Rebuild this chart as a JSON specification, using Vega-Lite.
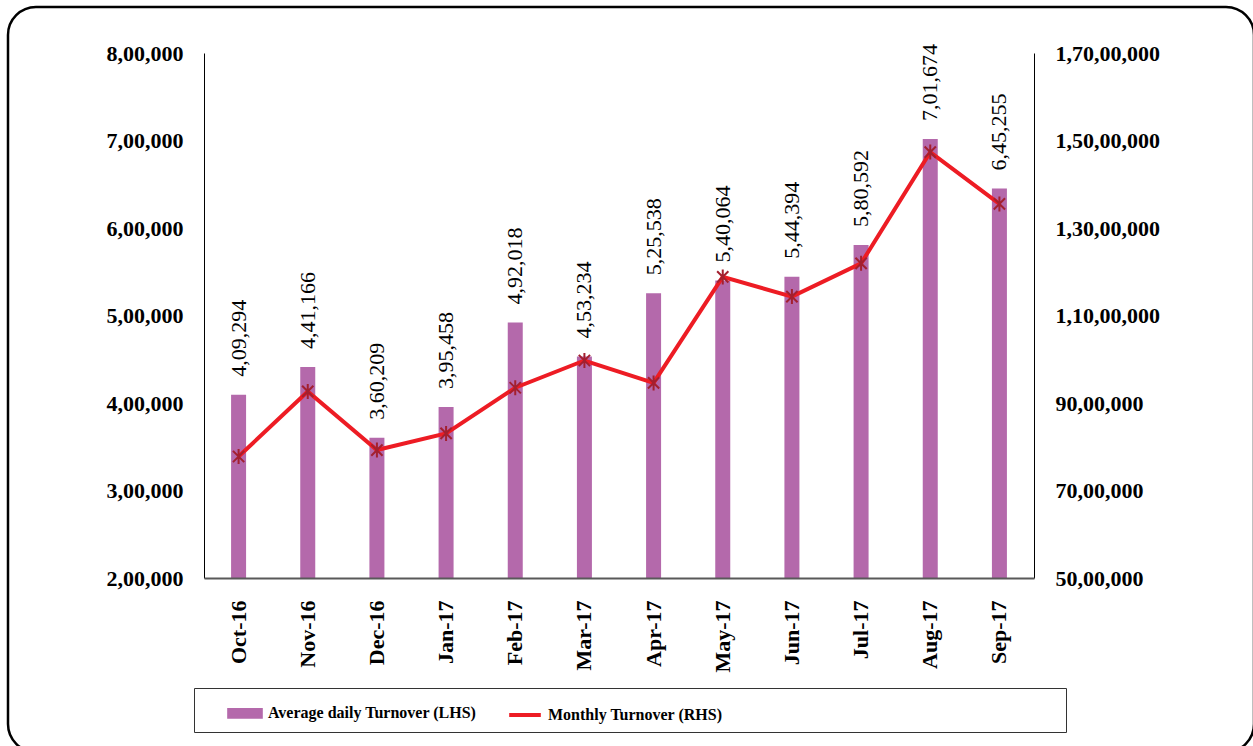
{
  "$schema": "https://vega.github.io/schema/vega-lite/v6.json",
  "width": 1246,
  "height": 745,
  "autosize": {"type": "none"},
  "padding": {"left": 8, "top": 7, "right": -1, "bottom": -6},
  "background": "white",
  "view": {"stroke": "#000000", "strokeWidth": 2.5, "cornerRadius": 28, "fill": "white"},
  "data": {
    "values": [
      {"month": "Oct-16", "avg": 409294, "monthly": 7776586},
      {"month": "Nov-16", "avg": 441166, "monthly": 9264486},
      {"month": "Dec-16", "avg": 360209, "monthly": 7924598},
      {"month": "Jan-17", "avg": 395458, "monthly": 8304618},
      {"month": "Feb-17", "avg": 492018, "monthly": 9348342},
      {"month": "Mar-17", "avg": 453234, "monthly": 9971148},
      {"month": "Apr-17", "avg": 525538, "monthly": 9459684},
      {"month": "May-17", "avg": 540064, "monthly": 11881408},
      {"month": "Jun-17", "avg": 544394, "monthly": 11432274},
      {"month": "Jul-17", "avg": 580592, "monthly": 12192432},
      {"month": "Aug-17", "avg": 701674, "monthly": 14735154},
      {"month": "Sep-17", "avg": 645255, "monthly": 13550355}
    ]
  },
  "encoding": {
    "x": {
      "field": "month",
      "type": "nominal",
      "sort": null,
      "scale": {"range": [196, 1026], "paddingInner": 0, "paddingOuter": 0},
      "axis": {
        "title": null,
        "orient": "bottom",
        "offset": -174,
        "labelAngle": -90,
        "labelAlign": "right",
        "labelBaseline": "middle",
        "labelPadding": 22,
        "ticks": false,
        "tickSize": 0,
        "domainColor": "#595959",
        "domainWidth": 2,
        "labelFont": "Liberation Serif",
        "labelFontSize": 22,
        "labelFontWeight": "bold",
        "labelColor": "#000000",
        "grid": false,
        "zindex": 1
      }
    }
  },
  "layer": [
    {
      "encoding": {
        "y": {
          "field": "avg",
          "type": "quantitative",
          "scale": {"domain": [200000, 800000], "range": [571, 46], "nice": false, "zero": false},
          "axis": {
            "title": null,
            "orient": "left",
            "offset": -196,
            "values": [200000, 300000, 400000, 500000, 600000, 700000, 800000],
            "labelExpr": "replace(toString(datum.value), regexp('([0-9])(?=([0-9][0-9])+[0-9]$)', 'g'), '$1,')",
            "ticks": false,
            "tickSize": 0,
            "labelPadding": 21,
            "domainColor": "#000000",
            "domainWidth": 1,
            "grid": false,
            "labelFont": "Liberation Serif",
            "labelFontSize": 22,
            "labelFontWeight": "bold",
            "labelColor": "#000000"
          }
        }
      },
      "layer": [
        {
          "mark": {"type": "bar", "size": 15},
          "encoding": {
            "y2": {"datum": 200000},
            "color": {
              "datum": "Average  daily Turnover (LHS)",
              "scale": {
                "domain": ["Average  daily Turnover (LHS)", "Monthly Turnover (RHS)"],
                "range": ["#B469AB", "#ED1C24"]
              },
              "legend": {
                "orient": "none",
                "legendX": 186,
                "legendY": 681,
                "direction": "horizontal",
                "columns": 2,
                "title": " ",
                "titleOrient": "right",
                "titlePadding": 336,
                "titleFontSize": 10,
                "padding": 7,
                "strokeColor": "#333333",
                "labelFont": "Liberation Serif",
                "labelFontSize": 16,
                "labelFontWeight": "bold",
                "labelColor": "#000000",
                "labelLimit": 500,
                "labelOffset": 5,
                "columnPadding": 0,
                "symbolSize": 1000,
                "symbolOffset": 26,
                "encode": {
                  "symbols": {
                    "update": {
                      "shape": {"signal": "datum.value === 'Monthly Turnover (RHS)' ? 'M-1,0H1' : 'M-1,-0.21H1V0.21H-1Z'"},
                      "fill": {"signal": "datum.value === 'Monthly Turnover (RHS)' ? 'transparent' : '#B469AB'"},
                      "stroke": {"signal": "datum.value === 'Monthly Turnover (RHS)' ? '#ED1C24' : 'transparent'"},
                      "strokeWidth": {"value": 4},
                      "opacity": {"value": 1},
                      "fillOpacity": {"value": 1},
                      "strokeOpacity": {"value": 1}
                    }
                  }
                }
              }
            }
          }
        },
        {
          "mark": {
            "type": "text",
            "angle": 270,
            "align": "left",
            "baseline": "middle",
            "dx": 18,
            "font": "Liberation Serif",
            "fontSize": 22,
            "color": "#000000",
            "text": {"expr": "replace(toString(datum.avg), regexp('([0-9])(?=([0-9][0-9])+[0-9]$)', 'g'), '$1,')"}
          }
        }
      ]
    },
    {
      "encoding": {
        "y": {
          "field": "monthly",
          "type": "quantitative",
          "scale": {"domain": [5000000, 17000000], "range": [571, 46], "nice": false, "zero": false},
          "axis": {
            "title": null,
            "orient": "right",
            "offset": -220,
            "values": [5000000, 7000000, 9000000, 11000000, 13000000, 15000000, 17000000],
            "labelExpr": "replace(toString(datum.value), regexp('([0-9])(?=([0-9][0-9])+[0-9]$)', 'g'), '$1,')",
            "ticks": false,
            "tickSize": 0,
            "labelPadding": 21,
            "domainColor": "#000000",
            "domainWidth": 1,
            "grid": false,
            "labelFont": "Liberation Serif",
            "labelFontSize": 22,
            "labelFontWeight": "bold",
            "labelColor": "#000000"
          }
        }
      },
      "layer": [
        {
          "mark": {"type": "line", "strokeWidth": 4},
          "encoding": {"color": {"datum": "Monthly Turnover (RHS)"}}
        },
        {
          "mark": {
            "type": "point",
            "shape": "M0,-1V1M-0.75,-0.75L0.75,0.75M-0.75,0.75L0.75,-0.75",
            "size": 225,
            "filled": false,
            "stroke": "#A3202F",
            "strokeWidth": 2,
            "opacity": 1
          }
        }
      ]
    }
  ],
  "resolve": {"scale": {"y": "independent"}}
}
